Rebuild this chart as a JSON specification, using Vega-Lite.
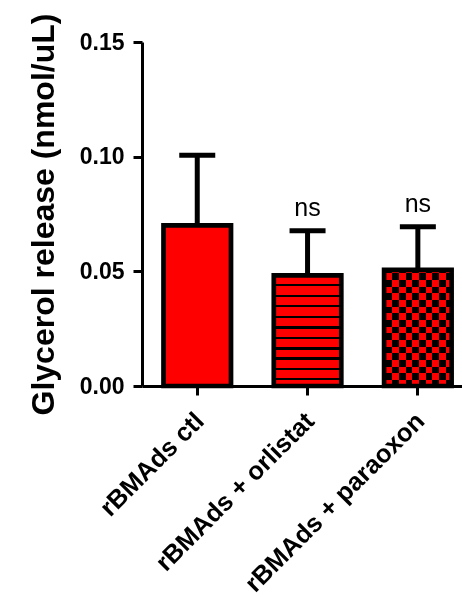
{
  "$schema": "https://vega.github.io/schema/vega-lite/v6.json",
  "autosize": "none",
  "width": 320,
  "height": 344,
  "padding": {"left": 142, "top": 42, "right": 0, "bottom": 211},
  "background": "white",
  "config": {
    "view": {"stroke": null},
    "font": "Liberation Sans",
    "axis": {
      "domainColor": "black",
      "domainWidth": 3,
      "tickColor": "black",
      "tickWidth": 3,
      "tickSize": 9,
      "grid": false,
      "labelColor": "black",
      "labelFont": "Liberation Sans",
      "labelFontWeight": "bold",
      "labelLimit": 0,
      "titleColor": "black",
      "titleFont": "Liberation Sans",
      "titleFontWeight": "bold",
      "titleLimit": 0
    }
  },
  "data": {
    "values": [
      {"group": "rBMAds ctl", "mean": 0.070, "upper": 0.1006, "sig": ""},
      {"group": "rBMAds + orlistat", "mean": 0.0482, "upper": 0.0677, "sig": "ns"},
      {"group": "rBMAds + paraoxon", "mean": 0.0506, "upper": 0.0694, "sig": "ns"}
    ]
  },
  "encoding": {
    "x": {
      "field": "group",
      "type": "nominal",
      "sort": null,
      "scale": {"paddingInner": 0.388, "paddingOuter": 0.1446, "align": 0.674},
      "axis": {
        "title": null,
        "labelAngle": -45,
        "labelAlign": "right",
        "labelBaseline": "top",
        "labelFontSize": 25.5,
        "labelPadding": 13,
        "labelOffset": -6
      }
    }
  },
  "layer": [
    {
      "mark": {"type": "rule", "color": "black", "strokeWidth": 5},
      "encoding": {
        "y": {"field": "mean", "type": "quantitative"},
        "y2": {"field": "upper"}
      }
    },
    {
      "mark": {"type": "tick", "color": "black", "thickness": 5, "size": 36, "opacity": 1},
      "encoding": {
        "y": {"field": "upper", "type": "quantitative"}
      }
    },
    {
      "transform": [{"filter": "datum.group === 'rBMAds ctl'"}],
      "mark": {"type": "bar", "color": "#ff0000", "strokeWidth": 0},
      "encoding": {"y": {"field": "mean", "type": "quantitative"}}
    },
    {
      "transform": [{"filter": "datum.group === 'rBMAds + orlistat'"}],
      "mark": {
        "type": "bar",
        "strokeWidth": 0,
        "color": {
          "gradient": "linear", "x1": 0, "y1": 0, "x2": 0, "y2": 1,
          "stops": [
            {"offset": 0, "color": "#ff0000"},
            {"offset": 0.0778, "color": "#ff0000"}, {"offset": 0.0778, "color": "#000000"},
            {"offset": 0.0995, "color": "#000000"}, {"offset": 0.0995, "color": "#ff0000"},
            {"offset": 0.1738, "color": "#ff0000"}, {"offset": 0.1738, "color": "#000000"},
            {"offset": 0.1955, "color": "#000000"}, {"offset": 0.1955, "color": "#ff0000"},
            {"offset": 0.2679, "color": "#ff0000"}, {"offset": 0.2679, "color": "#000000"},
            {"offset": 0.2896, "color": "#000000"}, {"offset": 0.2896, "color": "#ff0000"},
            {"offset": 0.3638, "color": "#ff0000"}, {"offset": 0.3638, "color": "#000000"},
            {"offset": 0.3855, "color": "#000000"}, {"offset": 0.3855, "color": "#ff0000"},
            {"offset": 0.4606, "color": "#ff0000"}, {"offset": 0.4606, "color": "#000000"},
            {"offset": 0.4824, "color": "#000000"}, {"offset": 0.4824, "color": "#ff0000"},
            {"offset": 0.5538, "color": "#ff0000"}, {"offset": 0.5538, "color": "#000000"},
            {"offset": 0.5756, "color": "#000000"}, {"offset": 0.5756, "color": "#ff0000"},
            {"offset": 0.6507, "color": "#ff0000"}, {"offset": 0.6507, "color": "#000000"},
            {"offset": 0.6724, "color": "#000000"}, {"offset": 0.6724, "color": "#ff0000"},
            {"offset": 0.7412, "color": "#ff0000"}, {"offset": 0.7412, "color": "#000000"},
            {"offset": 0.7629, "color": "#000000"}, {"offset": 0.7629, "color": "#ff0000"},
            {"offset": 0.8380, "color": "#ff0000"}, {"offset": 0.8380, "color": "#000000"},
            {"offset": 0.8597, "color": "#000000"}, {"offset": 0.8597, "color": "#ff0000"},
            {"offset": 0.9285, "color": "#ff0000"}, {"offset": 0.9285, "color": "#000000"},
            {"offset": 0.9502, "color": "#000000"}, {"offset": 0.9502, "color": "#ff0000"},
            {"offset": 1, "color": "#ff0000"}
          ]
        }
      },
      "encoding": {"y": {"field": "mean", "type": "quantitative"}}
    },
    {
      "transform": [{"filter": "datum.group === 'rBMAds + paraoxon'"}],
      "mark": {
        "type": "bar",
        "strokeWidth": 0,
        "color": {
          "gradient": "linear", "x1": 0, "y1": 0, "x2": 0, "y2": 1,
          "stops": [
            {"offset": 0, "color": "#000000"},
            {"offset": 0.0302, "color": "#000000"}, {"offset": 0.0302, "color": "#ff0000"},
            {"offset": 0.0879, "color": "#ff0000"}, {"offset": 0.0879, "color": "#000000"},
            {"offset": 0.1448, "color": "#000000"}, {"offset": 0.1448, "color": "#ff0000"},
            {"offset": 0.2026, "color": "#ff0000"}, {"offset": 0.2026, "color": "#000000"},
            {"offset": 0.2603, "color": "#000000"}, {"offset": 0.2603, "color": "#ff0000"},
            {"offset": 0.3172, "color": "#ff0000"}, {"offset": 0.3172, "color": "#000000"},
            {"offset": 0.3750, "color": "#000000"}, {"offset": 0.3750, "color": "#ff0000"},
            {"offset": 0.4328, "color": "#ff0000"}, {"offset": 0.4328, "color": "#000000"},
            {"offset": 0.4897, "color": "#000000"}, {"offset": 0.4897, "color": "#ff0000"},
            {"offset": 0.5474, "color": "#ff0000"}, {"offset": 0.5474, "color": "#000000"},
            {"offset": 0.6052, "color": "#000000"}, {"offset": 0.6052, "color": "#ff0000"},
            {"offset": 0.6621, "color": "#ff0000"}, {"offset": 0.6621, "color": "#000000"},
            {"offset": 0.7198, "color": "#000000"}, {"offset": 0.7198, "color": "#ff0000"},
            {"offset": 0.7776, "color": "#ff0000"}, {"offset": 0.7776, "color": "#000000"},
            {"offset": 0.8345, "color": "#000000"}, {"offset": 0.8345, "color": "#ff0000"},
            {"offset": 0.8922, "color": "#ff0000"}, {"offset": 0.8922, "color": "#000000"},
            {"offset": 0.9500, "color": "#000000"}, {"offset": 0.9500, "color": "#ff0000"},
            {"offset": 1, "color": "#ff0000"}
          ]
        }
      },
      "encoding": {"y": {"field": "mean", "type": "quantitative"}}
    },
    {
      "transform": [{"filter": "datum.group === 'rBMAds + paraoxon'"}],
      "mark": {
        "type": "bar",
        "strokeWidth": 0,
        "blend": "difference",
        "color": {
          "gradient": "linear", "x1": 0, "y1": 0, "x2": 1, "y2": 0,
          "stops": [
            {"offset": 0, "color": "#ff0000"},
            {"offset": 0.0252, "color": "#ff0000"}, {"offset": 0.0252, "color": "#000000"},
            {"offset": 0.1244, "color": "#000000"}, {"offset": 0.1244, "color": "#ff0000"},
            {"offset": 0.2222, "color": "#ff0000"}, {"offset": 0.2222, "color": "#000000"},
            {"offset": 0.3215, "color": "#000000"}, {"offset": 0.3215, "color": "#ff0000"},
            {"offset": 0.4207, "color": "#ff0000"}, {"offset": 0.4207, "color": "#000000"},
            {"offset": 0.5185, "color": "#000000"}, {"offset": 0.5185, "color": "#ff0000"},
            {"offset": 0.6178, "color": "#ff0000"}, {"offset": 0.6178, "color": "#000000"},
            {"offset": 0.7170, "color": "#000000"}, {"offset": 0.7170, "color": "#ff0000"},
            {"offset": 0.8148, "color": "#ff0000"}, {"offset": 0.8148, "color": "#000000"},
            {"offset": 0.9141, "color": "#000000"}, {"offset": 0.9141, "color": "#ff0000"},
            {"offset": 1, "color": "#ff0000"}
          ]
        }
      },
      "encoding": {"y": {"field": "mean", "type": "quantitative"}}
    },
    {
      "mark": {"type": "bar", "fill": null, "fillOpacity": 0, "stroke": "black", "strokeWidth": 4.7},
      "encoding": {
        "y": {
          "field": "mean",
          "type": "quantitative",
          "scale": {"domain": [0, 0.15], "nice": false},
          "axis": {
            "title": "Glycerol release (nmol/uL)",
            "titleFontSize": 32,
            "titlePadding": 19,
            "values": [0, 0.05, 0.1, 0.15],
            "format": ".2f",
            "labelFontSize": 23,
            "labelPadding": 9
          }
        }
      }
    },
    {
      "mark": {"type": "text", "font": "Liberation Sans", "fontSize": 25, "color": "black", "align": "center", "baseline": "alphabetic", "dy": -15},
      "encoding": {
        "y": {"field": "upper", "type": "quantitative"},
        "text": {"field": "sig"}
      }
    }
  ]
}
